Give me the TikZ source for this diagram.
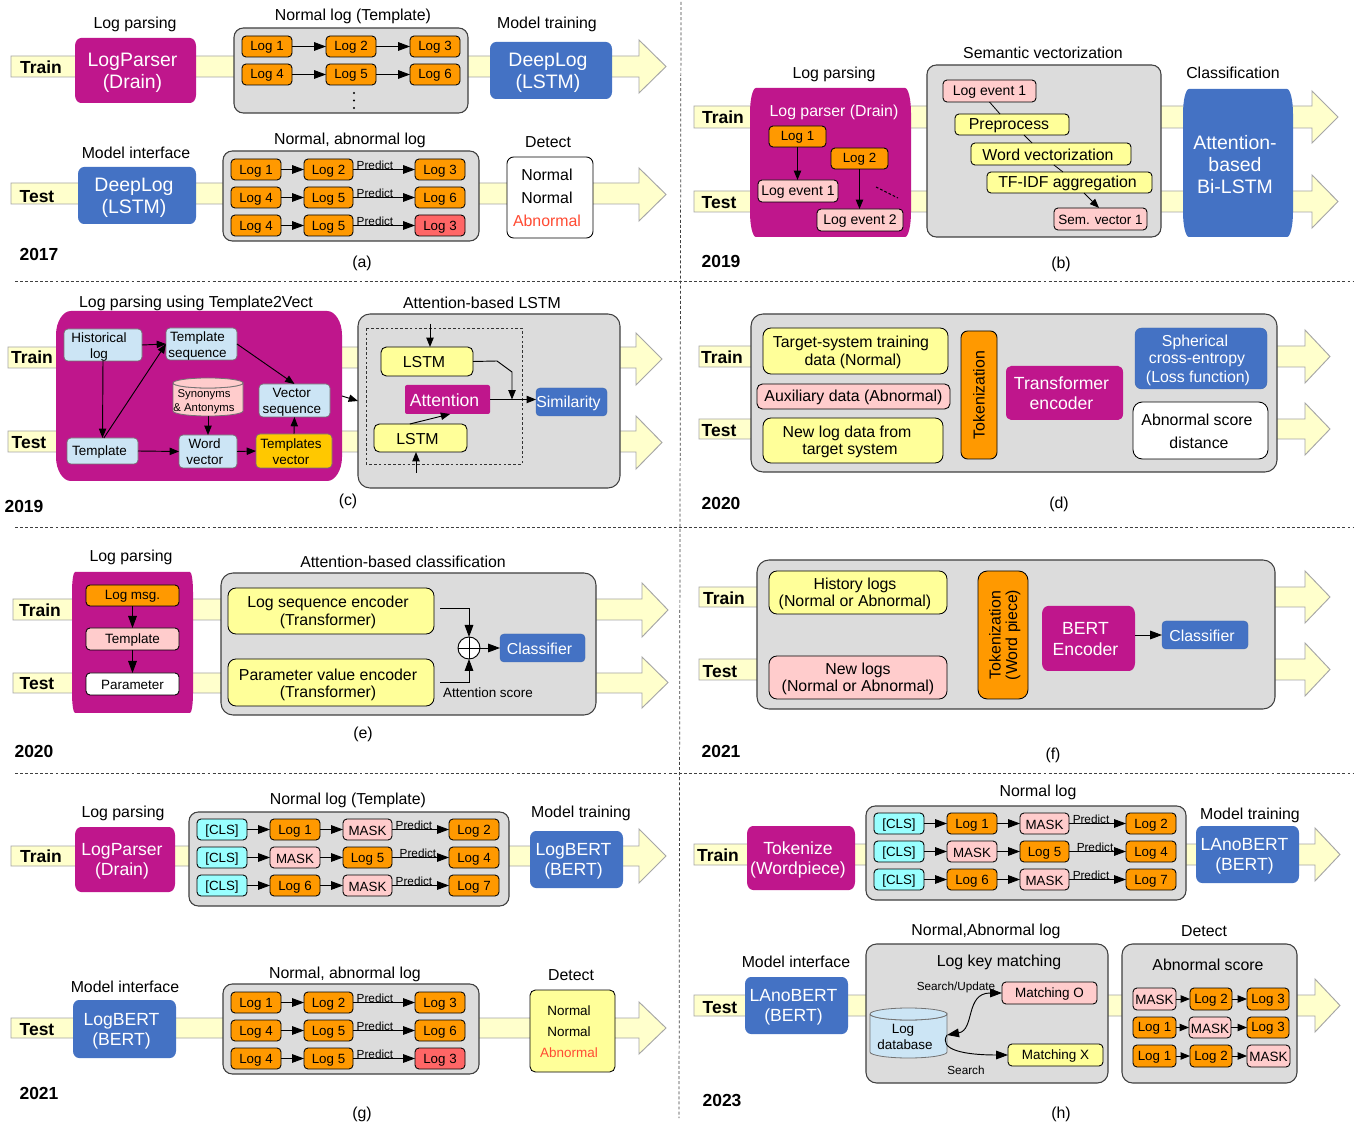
\documentclass[tikz,border=0pt]{standalone}
\usepackage{fontspec}
\setmainfont{Liberation Sans}
\usetikzlibrary{arrows.meta,calc}
\definecolor{cMag}{HTML}{BF168C}
\definecolor{cBlue}{HTML}{4472C4}
\definecolor{cOrange}{HTML}{FF9900}
\definecolor{cPink}{HTML}{FFCCCC}
\definecolor{cYel}{HTML}{FFFF99}
\definecolor{cRed}{HTML}{FF6666}
\definecolor{cCyan}{HTML}{99FFFF}
\definecolor{cSky}{HTML}{CCE5F5}
\definecolor{cGray}{HTML}{DCDCDC}
\definecolor{cBand}{HTML}{FFFFCC}
\definecolor{cAbn}{HTML}{FF4B33}
\definecolor{cGold}{HTML}{FFC800}
\tikzset{
  ft/.style={font=\fontsize{11.9}{13.8}\selectfont},
  fb/.style={font=\fontsize{14.6}{16.4}\selectfont},
  fm/.style={font=\fontsize{13.2}{15.2}\selectfont},
  fl/.style={font=\fontsize{10.1}{12}\selectfont},
  fs/.style={font=\fontsize{8.8}{10.5}\selectfont},
  flab/.style={font=\fontsize{13.1}{15}\bfseries\selectfont,yshift=.75pt},
  boxb/.style={draw=black,line width=.65pt,rounded corners=3pt,inner sep=0pt,outer sep=0pt,align=center},
  logb/.style={boxb,fill=cOrange,font=\fontsize{10}{12}\selectfont},
  panel/.style={draw=black!75,line width=.8pt,fill=cGray,rounded corners=7pt,inner sep=0pt,outer sep=0pt},
  ybox/.style={boxb,fill=cYel,rounded corners=6pt,ft},
  skyb/.style={draw=black!55,line width=.5pt,fill=cSky,rounded corners=3pt,inner sep=0pt,outer sep=0pt,align=center,fl},
  solid blue/.style={fill=cBlue,draw=cBlue!90!black,line width=.3pt,rounded corners=3pt,inner sep=0pt,outer sep=0pt,text=white,align=center,ft},
  arr/.style={line width=.7pt,-{Triangle[length=9pt,width=6.5pt]}},
  sarr/.style={line width=.7pt,-{Triangle[length=7pt,width=5.5pt]}},
  div/.style={draw=black!75,line width=.55pt,dash pattern=on 2.2pt off 1.6pt},
  hidb/.style={inner sep=0pt,outer sep=0pt,align=center},
  hid/.style={hidb,yshift=-.75pt},
  ptxt/.style={hid,draw=none,fill=none,minimum width=0pt,minimum height=0pt},
}
\def\rkNone{}
% box: [text node options]{style}{name}{x1}{y1}{x2}{y2}{text}
\newcommand{\nbx}[8][]{\pgfmathsetmacro\rkW{(#5-(#3))*0.75}\pgfmathsetmacro\rkH{(#6-(#4))*0.75}%
  \node[#2,minimum width=\rkW pt,minimum height=\rkH pt] (#3) at ({(#4+#6)/2},{(#5+#7)/2}) {};}
\renewcommand{\nbx}[8][]{\pgfmathsetmacro\rkW{(#6-(#4))*0.75}\pgfmathsetmacro\rkH{(#7-(#5))*0.75}%
  \node[#2,minimum width=\rkW pt,minimum height=\rkH pt] (#3) at ({(#4+#6)/2},{(#5+#7)/2}) {};
  \def\rkE{#8}\ifx\rkE\rkNone\else
  \node[#2,draw=none,fill=none,minimum width=0pt,minimum height=0pt,yshift=-.75pt,#1] (#3t) at (#3.center) {#8};\fi}
\newcommand{\lb}[5]{\node[hid,#1] (#2) at (#3,#4) {#5};}
% rounded barrel-shaped block: fill, name, x1,y1,x2,y2, rx, ry, text style; text in \rktext
\def\rktext{}
\newcommand{\barrel}[9]{%
  \fill[#1] ({#3+#7},#4) -- ({#5-#7},#4) .. controls ({#5-.45*#7},#4) and (#5,{#4+.45*#8}) .. (#5,{#4+#8})
   -- (#5,{#6-#8}) .. controls (#5,{#6-.45*#8}) and ({#5-.45*#7},#6) .. ({#5-#7},#6)
   -- ({#3+#7},#6) .. controls ({#3+.45*#7},#6) and (#3,{#6-.45*#8}) .. (#3,{#6-#8})
   -- (#3,{#4+#8}) .. controls (#3,{#4+.45*#8}) and ({#3+.45*#7},#4) .. ({#3+#7},#4) -- cycle;
  \pgfmathsetmacro\rkW{(#5-(#3))*0.75}\pgfmathsetmacro\rkH{(#6-(#4))*0.75}%
  \node[hidb,minimum width=\rkW pt,minimum height=\rkH pt] (#2) at ({(#3+#5)/2},{(#4+#6)/2}) {};
  \ifx\rktext\rkNone\else
  \node[hidb,text=white,xshift=-2.25pt,yshift=-1.5pt,#9] (#2t) at (#2.center) {\rktext};\fi}
\newcommand{\flow}[7]{\pgfmathsetmacro\rkT{(#6+#7)/2}%
  \draw[fill=cBand,draw=black!35,line width=.7pt] (#1,#4) -- (#2,#4) -- (#2,#6) -- (#3,\rkT) -- (#2,#7) -- (#2,#5) -- (#1,#5) -- cycle;}
% cylinder: name, x1,y1,x2,y2, ry, fill
\newcommand{\cyl}[7]{\pgfmathsetmacro\rkRx{(#4-(#2))*0.375}\pgfmathsetmacro\rkRy{#6*0.75}%
  \draw[fill=#7,draw=black!55,line width=.6pt] (#2,{#3+#6}) -- (#2,{#5-#6}) arc[start angle=180,end angle=360,x radius=\rkRx pt,y radius=\rkRy pt] -- (#4,{#3+#6}) arc[start angle=0,end angle=-180,x radius=\rkRx pt,y radius=\rkRy pt];
  \draw[fill=#7,draw=black!55,line width=.6pt] ({(#2+#4)/2},{#3+#6}) ellipse [x radius=\rkRx pt,y radius=\rkRy pt];
  \nbx{hidb}{#1}{#2}{#3}{#4}{#5}{}}
% detection grid (panels a, g)
\newcommand{\loggrid}[2]{%
  \nbx{panel}{#1g}{223}{151+#2}{479}{241+#2}{}
  \foreach \rr/\ta/\tb/\tc/\fc in {0/Log 1/Log 2/Log 3/cOrange,1/Log 4/Log 5/Log 6/cOrange,2/Log 4/Log 5/Log 3/cRed}{%
    \pgfmathsetmacro\ya{159+\rr*28+#2}\pgfmathsetmacro\yb{\ya+21}%
    \nbx[yshift=-.4pt]{logb}{#1a\rr}{231}{\ya}{281}{\yb}{\ta}
    \nbx[yshift=-.4pt]{logb}{#1b\rr}{304}{\ya}{353}{\yb}{\tb}
    \nbx[yshift=-.4pt]{logb,fill=\fc}{#1c\rr}{415}{\ya}{465}{\yb}{\tc}
    \draw[arr] (#1a\rr.east) -- (#1b\rr.west);
    \draw[arr] (#1b\rr.east) -- (#1c\rr.west);
    \lb{fs}{#1p\rr}{375}{{\ya+5}}{Predict}
  }}
% [CLS] grid (panels g, h)
\newcommand{\clsgrid}[3]{%
  \nbx{panel}{#1g}{189+#2}{812+#3}{509+#2}{906+#3}{}
  \foreach \rr/\ta/\tb/\tc/\fa/\fb/\px in {0/Log 1/MASK/Log 2/cOrange/cPink/414,1/MASK/Log 5/Log 4/cPink/cOrange/418,2/Log 6/MASK/Log 7/cOrange/cPink/414}{%
    \pgfmathsetmacro\ya{819+\rr*28+#3}\pgfmathsetmacro\yb{\ya+21}%
    \nbx[yshift=-.4pt]{logb,fill=cCyan}{#1s\rr}{197+#2}{\ya}{247+#2}{\yb}{[CLS]}
    \nbx[yshift=-.4pt]{logb,fill=\fa}{#1a\rr}{270+#2}{\ya}{320+#2}{\yb}{\ta}
    \nbx[yshift=-.4pt]{logb,fill=\fb}{#1b\rr}{343+#2}{\ya}{392+#2}{\yb}{\tb}
    \nbx[yshift=-.4pt]{logb}{#1c\rr}{449+#2}{\ya}{499+#2}{\yb}{\tc}
    \draw[arr] (#1s\rr.east) -- (#1a\rr.west);
    \draw[arr] (#1a\rr.east) -- (#1b\rr.west);
    \draw[arr] (#1b\rr.east) -- (#1c\rr.west);
    \lb{fs}{#1p\rr}{{\px+#2}}{{\ya+5}}{Predict}
  }}
\begin{document}
\begin{tikzpicture}[x=.75pt,y=-.75pt]
\useasboundingbox (0,0) rectangle (1354,1126);
\fill[white] (0,0) rectangle (1354,1126);
% dividers
\draw[div] (681,2) -- (680,527) -- (679,1118);
\draw[div] (15,281) -- (1354,281);
\draw[div] (15,527) -- (1354,527);
\draw[div] (15,773) -- (1354,773);
% flow arrows
\flow{11}{639}{666}{56}{77}{40}{93}
\flow{11}{639}{666}{183}{204}{168}{221}
\flow{694}{1312}{1338}{106}{128}{91}{143}
\flow{694}{1312}{1338}{191}{212}{175}{228}
\flow{8}{636}{662}{347}{368}{333}{385}
\flow{8}{636}{662}{431}{452}{416}{469}
\flow{699}{1305}{1330}{346}{367}{330}{383}
\flow{699}{1305}{1330}{419}{439}{403}{455}
\flow{13}{642}{668}{599}{620}{583}{637}
\flow{13}{642}{668}{673}{693}{657}{708}
\flow{699}{1305}{1330}{587}{607}{571}{623}
\flow{699}{1305}{1330}{659}{680}{643}{696}
\flow{11}{639}{666}{846}{866}{829}{883}
\flow{11}{639}{666}{1018}{1038}{1002}{1054}
\flow{694}{1315}{1340}{844}{865}{828}{881}
\flow{694}{1315}{1340}{995}{1016}{979}{1032}

% ---------- panel a
\lb{flab}{aTr}{41}{67}{Train}
\lb{flab}{aTe}{37}{197}{Test}
\lb{ft}{at1}{135}{23}{Log parsing}
\lb{ft}{at2}{353}{15}{Normal log (Template)}
\lb{ft}{at3}{547}{23}{Model training}
\lb{ft}{at4}{136}{152}{Model interface}
\lb{ft}{at5}{350}{139}{Normal, abnormal log}
\lb{ft}{at6}{548}{141}{Detect}
\def\rktext{LogParser\\(Drain)}
\barrel{cMag}{aLP}{75}{38}{196}{103}{6}{8}{fb}
\nbx{panel}{aG}{234}{28}{468}{113}{}
\nbx{logb}{a1}{242}{36}{292}{57}{Log 1}
\nbx{logb}{a2}{326}{36}{376}{57}{Log 2}
\nbx{logb}{a3}{410}{36}{460}{57}{Log 3}
\nbx{logb}{a4}{242}{64}{292}{85}{Log 4}
\nbx{logb}{a5}{326}{64}{376}{85}{Log 5}
\nbx{logb}{a6}{410}{64}{460}{85}{Log 6}
\draw[arr] (a1) -- (a2); \draw[arr] (a2) -- (a3);
\draw[arr] (a4) -- (a5); \draw[arr] (a5) -- (a6);
\fill (354,93) circle[radius=.9pt] (354,100.5) circle[radius=.9pt] (354,108) circle[radius=.9pt];
\def\rktext{DeepLog\\(LSTM)}
\barrel{cBlue}{aDL}{490}{42}{612}{99}{6}{7}{fb}
\barrel{cBlue}{aDT}{78}{167}{196}{224}{6}{7}{fb}
\loggrid{ag}{0}
\nbx{boxb,fill=white,rounded corners=5pt}{aW}{507}{157}{593}{238}{}
\lb{ft}{an1}{547}{174}{Normal}
\lb{ft}{an2}{547}{197}{Normal}
\lb{ft,text=cAbn}{an3}{547}{220}{Abnormal}
\lb{flab}{ay}{39}{254}{2017}
\lb{ft}{acap}{362}{262}{(a)}

% ---------- panel b
\lb{flab}{bTr}{723}{117}{Train}
\lb{flab}{bTe}{719}{203}{Test}
\lb{ft}{bt1}{834}{73}{Log parsing}
\lb{ft}{bt2}{1043}{52}{Semantic vectorization}
\lb{ft}{bt3}{1233}{72}{Classification}
\def\rktext{}
\barrel{cMag}{bM}{750}{88}{911}{237}{6}{25}{ft}
\lb{ft,text=white}{bp}{834}{111}{Log parser (Drain)}
\nbx{logb}{b1}{769}{126}{826}{147}{Log 1}
\nbx{logb}{b2}{831}{148}{888}{169}{Log 2}
\nbx{boxb,fill=cPink,font=\fontsize{10.5}{12}\selectfont}{be1}{758}{180}{838}{202}{Log event 1}
\nbx{boxb,fill=cPink,font=\fontsize{10.5}{12}\selectfont}{be2}{817}{209}{903}{231}{Log event 2}
\draw[sarr] (b1.south) -- (b1.south |- be1.north);
\draw[sarr] (b2.south) -- (b2.south |- be2.north);
\draw[line width=.8pt,dash pattern=on 2pt off 1.5pt] (876,187) -- (898,198);
\nbx{panel}{bG}{927}{65}{1161}{237}{}
\nbx{boxb,fill=cPink,font=\fontsize{10.5}{12}\selectfont}{ble}{943}{80}{1036}{102}{Log event 1}
\nbx[xshift=-2.25pt]{boxb,fill=cYel,ft}{bpr}{955}{114}{1069}{135}{Preprocess}
\nbx[xshift=-2.25pt]{boxb,fill=cYel,ft}{bwv}{971}{143}{1131}{165}{Word vectorization}
\nbx[xshift=-1.5pt]{boxb,fill=cYel,ft}{btf}{987}{172}{1152}{193}{TF-IDF aggregation}
\nbx{boxb,fill=cPink,font=\fontsize{10.1}{12}\selectfont}{bsv}{1054}{208}{1147}{230}{Sem. vector 1}
\draw[line width=.6pt] (ble.south) -- ([xshift=-9pt]bpr.north);
\draw[line width=.6pt] ([xshift=9pt]bpr.south) -- ([xshift=-14.2pt]bwv.north);
\draw[line width=.6pt] ([xshift=2.2pt]bwv.south) -- ([xshift=-4.9pt]btf.north);
\draw[sarr] ([xshift=10.9pt]btf.south) -- ([xshift=-1.1pt]bsv.north);
\def\rktext{Attention-\\based\\Bi-LSTM}
\barrel{cBlue}{bB}{1183}{89}{1293}{237}{6}{25}{font=\fontsize{14.6}{16.5}\selectfont}
\lb{flab}{by}{721}{261}{2019}
\lb{ft}{bcap}{1061}{263}{(b)}

% ---------- panel c
\lb{flab}{cTr}{32}{357}{Train}
\lb{flab}{cTe}{29}{443}{Test}
\lb{ft}{ct1}{196}{302}{Log parsing using Template2Vect}
\lb{ft}{ct2}{482}{302}{Attention-based LSTM}
\def\rktext{}
\barrel{cMag}{cM}{56}{311}{342}{481}{15}{24}{ft}
\nbx{panel,rounded corners=9pt}{cG}{358}{314}{620}{488}{}
\nbx[xshift=-3pt,yshift=-.75pt]{skyb}{ch}{64}{329}{142}{361}{Historical\\log}
\nbx[xshift=-3pt,yshift=-.75pt]{skyb}{cs}{166}{328}{237}{360}{Template\\sequence}
\nbx[xshift=-2pt,yshift=-.75pt]{skyb}{cv}{259}{384}{330}{417}{Vector\\sequence}
\nbx[xshift=-2.25pt]{skyb}{ct}{67}{438}{138}{464}{Template}
\nbx[xshift=-2.5pt,yshift=.5pt]{skyb}{cw}{179}{435}{237}{468}{Word\\vector}
\nbx[xshift=-2.25pt,yshift=.5pt]{skyb,fill=cGold}{cx}{256}{434}{332}{468}{Templates\\vector}
\cyl{cy}{173}{378}{243}{416}{5}{cPink}
\lb{font=\fontsize{8.5}{10.5}\selectfont}{cyt}{204}{401}{Synonyms\\\& Antonyms}
\draw[sarr] (ch.east) -- (cs.west);
\draw[sarr] (ch.south) -- (ct.north);
\draw[sarr] ([xshift=1pt]ct.north) -- (cs.west);
\draw[sarr] (cs.east) -- (cv.north);
\draw[sarr] (cy.south) -- (cw.north);
\draw[sarr] (ct.east) -- (cw.west);
\draw[sarr] (cw.east) -- (cx.west);
\draw[sarr] (cx.north) -- (cv.south);
\draw[sarr] (cM.east) -- (cG.west);
\draw[draw=black!80,line width=.6pt,dash pattern=on 2pt off 1.6pt] (366,328) rectangle (522,464);
\nbx[xshift=-2.25pt]{boxb,fill=cYel,rounded corners=4pt,ft}{cl1}{381}{347}{473}{376}{LSTM}
\nbx[xshift=-2.25pt]{boxb,fill=cYel,rounded corners=4pt,ft}{cl2}{374}{424}{467}{452}{LSTM}
\nbx[xshift=-2.25pt]{hidb,fill=cMag,text=white,fm,rounded corners=1.5pt}{ca}{405}{385}{490}{414}{Attention}
\nbx[xshift=-2.25pt]{solid blue}{csm}{536}{388}{607}{416}{Similarity}
\coordinate (ctop) at (430,324);
\coordinate (cbot) at (416,473);
\coordinate (cj) at (512,399.5);
\draw[sarr] (ctop) -- (ctop |- cl1.north);
\draw[sarr] (cbot) -- (cbot |- cl2.south);
\draw[sarr] (cl1.east) -- (497,361) -- (512,372) -- (cj);
\draw[sarr] (ca.east) -- (ca.east -| csm.west);
\draw[sarr] ([xshift=-8pt]cl2.north) -- ([xshift=2pt]ca.south);
\lb{flab}{cy2}{24}{506}{2019}
\lb{ft}{ccap}{348}{500}{(c)}

% ---------- panel d
\lb{flab}{dTr}{722}{357}{Train}
\lb{flab}{dTe}{719}{431}{Test}
\nbx{panel,rounded corners=9pt}{dG}{751}{314}{1277}{472}{}
\nbx{ybox}{d1}{763}{328}{948}{374}{}
\lb{ft}{d1a}{851}{342}{Target-system training}
\lb{ft}{d1b}{853}{360}{data (Normal)}
\nbx{boxb,fill=cPink,rounded corners=4pt,ft}{d2}{757}{384}{950}{409}{Auxiliary data (Abnormal)}
\nbx{ybox}{d3}{763}{418}{943}{463}{}
\lb{ft}{d3a}{847}{432}{New log data from}
\lb{ft}{d3b}{850}{450}{target system}
\nbx{boxb,fill=cOrange,rounded corners=5pt}{d4}{961}{331}{997}{459}{}
\lb{ft,rotate=90}{d4t}{979}{394}{Tokenization}
\def\rktext{Transformer\\encoder}
\barrel{cMag}{d5}{1006}{366}{1123}{420}{5}{6}{fm,yshift=1.5pt}
\nbx{solid blue,rounded corners=5pt}{d6}{1135}{328}{1267}{389}{}
\lb{ft,text=white}{d6a}{1195}{341}{Spherical}
\lb{ft,text=white}{d6b}{1197}{359}{cross-entropy}
\lb{ft,text=white}{d6c}{1198}{377}{(Loss function)}
\nbx{boxb,fill=white,rounded corners=7pt}{d7}{1133}{402}{1268}{459}{}
\lb{ft}{d7a}{1197}{419}{Abnormal score}
\lb{ft}{d7b}{1199}{442}{distance}
\lb{flab}{dy}{721}{503}{2020}
\lb{ft}{dcap}{1059}{503}{(d)}

% ---------- panel e
\lb{flab}{eTr}{40}{610}{Train}
\lb{flab}{eTe}{37}{684}{Test}
\lb{ft}{et1}{131}{556}{Log parsing}
\lb{ft}{et2}{403}{561}{Attention-based classification}
\def\rktext{}
\barrel{cMag}{eM}{72}{572}{193}{713}{3}{20}{ft}
\nbx{boxb,fill=cOrange,fl}{e1}{86}{585}{179}{606}{Log msg.}
\nbx{boxb,fill=cPink,fl}{e2}{86}{628}{179}{650}{Template}
\nbx{boxb,fill=white,fl}{e3}{86}{673}{179}{695}{Parameter}
\draw[arr] (e1) -- (e2); \draw[arr] (e2) -- (e3);
\nbx{panel,rounded corners=9pt}{eG}{221}{573}{596}{715}{}
\nbx{ybox}{e4}{228}{588}{434}{634}{}
\lb{ft}{e4a}{328}{602}{Log sequence encoder}
\lb{ft}{e4b}{328}{620}{(Transformer)}
\nbx{ybox}{e5}{228}{659}{434}{706}{}
\lb{ft}{e5a}{328}{674}{Parameter value encoder}
\lb{ft}{e5b}{328}{692}{(Transformer)}
\node[draw=black,fill=white,circle,line width=.7pt,inner sep=0pt,outer sep=0pt,minimum size=16.5pt] (ep) at (469,648) {};
\draw[line width=.7pt] (ep.north) -- (ep.south) (ep.west) -- (ep.east);
\nbx[xshift=-2.25pt]{solid blue}{e6}{500}{634}{585}{662}{Classifier}
\coordinate (es1) at (440,608);
\coordinate (es2) at (440,682);
\draw[arr] (es1) -| (ep.north);
\draw[arr] (es2) -| (ep.south);
\draw[arr] (ep.east) -- (e6.west);
\lb{fl}{eas}{488}{692}{Attention score}
\lb{flab}{ey}{34}{751}{2020}
\lb{ft}{ecap}{363}{733}{(e)}

% ---------- panel f
\lb{flab}{fTr}{724}{598}{Train}
\lb{flab}{fTe}{720}{672}{Test}
\nbx{panel,rounded corners=9pt}{fG}{757}{560}{1275}{709}{}
\nbx{ybox}{f1}{769}{571}{947}{614}{}
\lb{ft}{f1a}{855}{584}{History logs}
\lb{ft}{f1b}{855}{601}{(Normal or Abnormal)}
\nbx{boxb,fill=cPink,rounded corners=6pt}{f2}{769}{656}{947}{699}{}
\lb{ft}{f2a}{858}{669}{New logs}
\lb{ft}{f2b}{858}{686}{(Normal or Abnormal)}
\nbx{boxb,fill=cOrange,rounded corners=7pt}{f3}{978}{571}{1028}{699}{}
\lb{ft,rotate=90}{f3a}{995}{634}{Tokenization}
\lb{ft,rotate=90}{f3b}{1013}{634}{(Word piece)}
\def\rktext{BERT\\Encoder}
\barrel{cMag}{f4}{1042}{606}{1135}{671}{6}{8}{fm,yshift=1.2pt}
\nbx[xshift=-2.25pt]{solid blue}{f5}{1162}{621}{1248}{649}{Classifier}
\draw[arr] (f4.east |- f5.west) -- (f5.west);
\lb{flab}{fy}{721}{751}{2021}
\lb{ft}{fcap}{1053}{754}{(f)}

% ---------- panel g
\lb{flab}{gTr}{41}{856}{Train}
\lb{flab}{gTe}{37}{1030}{Test}
\lb{ft}{gt1}{123}{812}{Log parsing}
\lb{ft}{gt2}{348}{799}{Normal log (Template)}
\lb{ft}{gt3}{581}{812}{Model training}
\lb{ft}{gt4}{125}{986}{Model interface}
\lb{ft}{gt5}{345}{973}{Normal, abnormal log}
\lb{ft}{gt6}{571}{974}{Detect}
\def\rktext{LogParser\\(Drain)}
\barrel{cMag}{gLP}{75}{827}{175}{892}{6}{8}{fm}
\clsgrid{gc}{0}{0}
\def\rktext{LogBERT\\(BERT)}
\barrel{cBlue}{gLB}{530}{831}{623}{888}{6}{7}{fm}
\barrel{cBlue}{gLT}{73}{1000}{176}{1058}{6}{7}{fm}
\loggrid{gg}{833}
\nbx{boxb,fill=cYel,rounded corners=4pt}{gW}{530}{990}{615}{1072}{}
\lb{fl}{gn1}{569}{1010}{Normal}
\lb{fl}{gn2}{569}{1031}{Normal}
\lb{fl,text=cAbn}{gn3}{569}{1052}{Abnormal}
\lb{flab}{gy}{39}{1093}{2021}
\lb{ft}{gcap}{362}{1113}{(g)}

% ---------- panel h
\lb{flab}{hTr}{718}{855}{Train}
\lb{flab}{hTe}{720}{1008}{Test}
\lb{ft}{ht1}{1038}{791}{Normal log}
\lb{ft}{ht2}{1250}{814}{Model training}
\lb{ft}{ht3}{986}{930}{Normal,Abnormal log}
\lb{ft}{ht4}{1204}{930}{Detect}
\lb{ft}{ht5}{796}{961}{Model interface}
\def\rktext{Tokenize\\(Wordpiece)}
\barrel{cMag}{hTk}{747}{826}{855}{890}{6}{8}{fm}
\clsgrid{hc}{677}{-6}
\def\rktext{LAnoBERT\\(BERT)}
\barrel{cBlue}{hLB}{1196}{826}{1299}{883}{6}{7}{fm}
\barrel{cBlue}{hLT}{745}{977}{848}{1034}{6}{7}{fm}
\nbx{panel,rounded corners=8pt}{hGL}{866}{944}{1108}{1083}{}
\nbx{panel,rounded corners=8pt}{hGR}{1122}{944}{1297}{1083}{}
\lb{ft}{hk}{999}{961}{Log key matching}
\lb{fs}{hsu}{956}{986}{Search/Update}
\nbx{boxb,fill=cPink,fl}{hmo}{1002}{982}{1097}{1004}{Matching O}
\nbx{boxb,fill=cYel,fl}{hmx}{1008}{1044}{1103}{1066}{Matching X}
\cyl{hdb}{870}{1008}{947}{1058}{6}{cSky}
\lb{fl}{hd1}{903}{1029}{Log}
\lb{fl}{hd2}{905}{1044}{database}
\lb{fs}{hse}{966}{1069}{Search}
\coordinate (hq) at ([yshift=-1.5pt]hdb.east);
\draw[line width=.7pt,{Triangle[length=9pt,width=6.5pt]}-{Triangle[length=9pt,width=6.5pt]}] (hq) .. controls (975,1030) and (965,993) .. (hmo.west);
\draw[arr] (hq) .. controls (938,1050) and (965,1055) .. (hmx.west);
\lb{ft}{has}{1208}{964}{Abnormal score}
\nbx{boxb,fill=cPink,fl}{h11}{1133}{988}{1176}{1010}{MASK}
\nbx{logb}{h12}{1190}{988}{1232}{1010}{Log 2}
\nbx{logb}{h13}{1247}{988}{1289}{1010}{Log 3}
\nbx{logb}{h21}{1133}{1017}{1176}{1038}{Log 1}
\nbx{boxb,fill=cPink,fl}{h22}{1189}{1017}{1231}{1038}{MASK}
\nbx{logb}{h23}{1247}{1017}{1289}{1038}{Log 3}
\nbx{logb}{h31}{1133}{1045}{1176}{1067}{Log 1}
\nbx{logb}{h32}{1190}{1045}{1232}{1067}{Log 2}
\nbx{boxb,fill=cPink,fl}{h33}{1247}{1045}{1290}{1067}{MASK}
\foreach \rr in {1,2,3}{%
  \draw[sarr] (h\rr1.east) -- (h\rr2.west);
  \draw[sarr] (h\rr2.east) -- (h\rr3.west);}
\lb{flab}{hy}{722}{1100}{2023}
\lb{ft}{hcap}{1061}{1113}{(h)}
\end{tikzpicture}
\end{document}
